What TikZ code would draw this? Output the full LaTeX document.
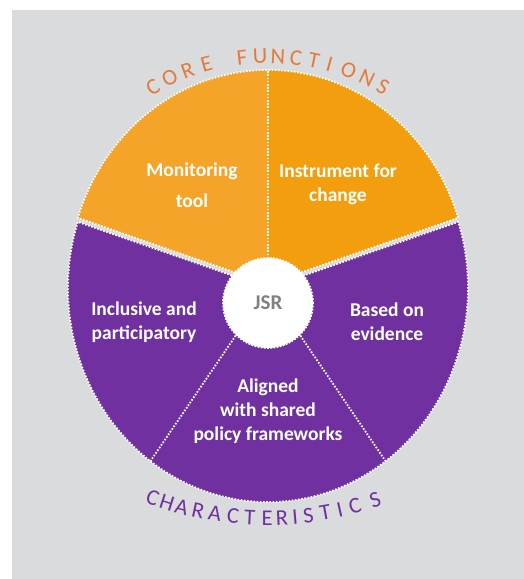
\documentclass[tikz,border=0pt]{standalone}
\usepackage{fontspec}
\setmainfont{Carlito}
\usetikzlibrary{calc}

\definecolor{boardgrey}{RGB}{217,219,220}
\definecolor{coreorangeA}{RGB}{244,164,40}
\definecolor{coreorangeB}{RGB}{242,158,14}
\definecolor{charpurple}{RGB}{112,48,160}
\definecolor{labelorange}{RGB}{228,122,58}
\definecolor{jsrgrey}{RGB}{128,128,128}

\tikzset{
  dotline/.style={draw=white, line width=1.8pt, dash pattern=on 1.6pt off 1.6pt},
  celltext/.style={text=white, font=\bfseries\fontsize{19.5}{24}\selectfont, align=center, inner sep=0pt},
  arcletter/.style={font=\fontsize{22.5}{22.5}\selectfont, inner sep=0pt},
}

\begin{document}
\begin{tikzpicture}[x=1pt, y=1pt]
  % page and grey board
  \useasboundingbox (0,0) rectangle (524,579);
  \fill[boardgrey] (12,0) rectangle (524,569);

  % wheel centre (upper half lifted, lower half lowered a little)
  \coordinate (o) at (268,293);
  \coordinate (ot) at (268,295);
  \coordinate (ob) at (268,291);

  % Core functions
  \fill[coreorangeB] (ot) -- ++(18:200 and 214) arc[start angle=18, end angle=90, x radius=200, y radius=214] -- cycle;
  \fill[coreorangeA] (ot) -- ++(90:200 and 214) arc[start angle=90, end angle=162, x radius=200, y radius=214] -- cycle;
  \draw[dotline] (ot) -- ++(18:200 and 214) arc[start angle=18, end angle=162, x radius=200, y radius=214] -- cycle;
  \draw[dotline] (ot) -- ++(90:200 and 214);

  % Characteristics
  \fill[charpurple] (ob) -- ++(162:200 and 214) arc[start angle=162, end angle=378, x radius=200, y radius=214] -- cycle;
  \draw[dotline] (ob) -- ++(162:200 and 214) arc[start angle=162, end angle=378, x radius=200, y radius=214] -- cycle;
  \draw[dotline] (ob) -- ++(234:200 and 214);
  \draw[dotline] (ob) -- ++(306:200 and 214);

  % hub
  \node[circle, fill=white, dotline, minimum size=90pt, text=jsrgrey,
        font=\bfseries\fontsize{21}{21}\selectfont] (jsr) at (268,276) {JSR};

  % segment labels
  \node[celltext] (monitor) at (192,393.5) {Monitoring\\[7pt]tool};
  \node[celltext] (instr) at (338,395) {Instrument for\\change};
  \node[celltext] (incl) at (144,257) {Inclusive and\\participatory};
  \node[celltext] (evid) at (387,257.5) {Based on\\evidence};
  \node[celltext] (align) at (268,168) {Aligned\\with shared\\policy frameworks};

  % curved titles
  \foreach \a/\ch [count=\i] in {120/C,115.3/O,110.5/R,105.5/E,96.5/F,92/U,87.5/N,83/C,78.5/T,74.5/I,69.5/O,64.5/N,60/S}
    \node[arcletter, text=labelorange, rotate=\a-90] (core-\i) at ($(o)+(\a:230)$) {\ch};
  \foreach \a/\ch [count=\i] in {249.7/C,252.3/H,255/A,257.9/R,260.9/A,264.1/C,267/T,270/E,272.6/R,274.9/I,277.2/S,280.2/T,282.8/I,285.5/C,289.2/S}
    \node[arcletter, text=charpurple, rotate=\a+90] (char-\i) at ($(267,390)+(\a:329)$) {\ch};
\end{tikzpicture}
\end{document}
